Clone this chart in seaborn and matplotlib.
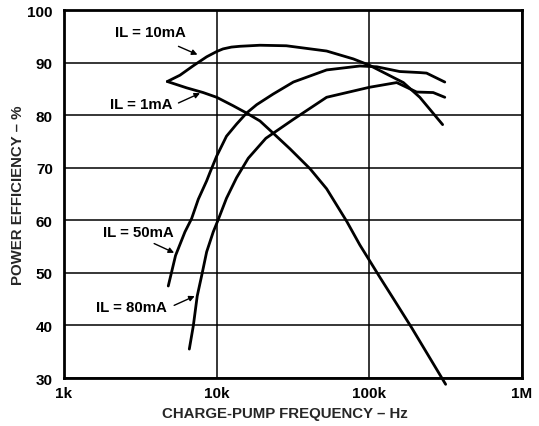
"""Power efficiency vs charge-pump frequency, one curve per load current."""

import matplotlib
import pandas as pd
import seaborn as sns

matplotlib.use("Agg")
import matplotlib.pyplot as plt

# frequency in Hz, efficiency in %
IL1_FREQ = [4750, 6350, 8160, 10000, 12800, 15700, 19200, 23400, 30200, 40900,
            52500, 71100, 86700, 100000, 117000, 143000, 189000, 316000]
IL1_EFF = [86.4, 85.2, 84.3, 83.4, 81.8, 80.4, 78.9, 76.6, 73.6, 69.8,
           66.0, 59.8, 55.3, 52.4, 49.2, 45.2, 39.6, 28.8]

IL10_FREQ = [4750, 5750, 7030, 8600, 10000, 11000, 12500, 14200, 19200, 28600, 52500, 78500,
             100000, 167000, 214000, 302000]
IL10_EFF = [86.4, 87.6, 89.4, 91.1, 92.1, 92.6, 92.95, 93.1, 93.3, 93.2, 92.2, 90.7,
            89.5, 86.2, 83.4, 78.2]

IL50_FREQ = [4820, 5380, 6200, 6850, 7580, 8600, 9040, 10000, 11600, 13500, 15700,
             18300, 23400, 31800, 52500, 86700, 112000, 158000, 214000, 237000, 312000]
IL50_EFF = [47.5, 53.3, 57.8, 60.3, 64.0, 67.5, 69.1, 72.2, 76.0, 78.3, 80.4,
            82.0, 84.0, 86.3, 88.6, 89.35, 89.2, 88.3, 88.1, 88.0, 86.3]

IL80_FREQ = [6620, 7030, 7460, 7980, 8600, 9500, 10200, 11600, 13500, 16100,
             21000, 31800, 52500, 100000, 151000, 204000, 262000, 312000]
IL80_EFF = [35.5, 39.9, 45.6, 49.5, 54.0, 57.8, 60.0, 64.2, 68.1, 71.8,
            75.6, 79.2, 83.4, 85.3, 86.2, 84.4, 84.3, 83.4]

CURVE_NAMES = ["IL = 1mA", "IL = 10mA", "IL = 50mA", "IL = 80mA"]

# label text position, arrow tail, arrow head (data coords)
LABELS = {
    "IL = 10mA": ((3660, 95.8), (5410, 93.3), (7780, 91.3)),
    "IL = 1mA": ((3230, 82.1), (5410, 82.1), (8090, 84.4)),
    "IL = 50mA": ((3050, 57.8), (3750, 55.8), (5470, 53.6)),
    "IL = 80mA": ((2770, 43.5), (5070, 43.6), (7460, 45.8)),
}


def build_frame() -> pd.DataFrame:
    parts = []
    for name, freq, eff in zip(
        CURVE_NAMES,
        [IL1_FREQ, IL10_FREQ, IL50_FREQ, IL80_FREQ],
        [IL1_EFF, IL10_EFF, IL50_EFF, IL80_EFF],
    ):
        parts.append(pd.DataFrame({"freq": freq, "eff": eff, "curve": name}))
    return pd.concat(parts, ignore_index=True)


def main() -> None:
    sns.set_theme(style="white")
    plt.rcParams["font.family"] = ["Liberation Sans", "DejaVu Sans"]
    plt.rcParams["font.weight"] = "bold"

    data = build_frame()

    fig = plt.figure(figsize=(5.39, 4.27), dpi=100)
    ax = fig.add_axes([0.1187, 0.1124, 0.8498, 0.8618])

    sns.lineplot(
        data=data, x="freq", y="eff", hue="curve", units="curve",
        estimator=None, sort=False, palette=["black"] * 4,
        linewidth=2.0, legend=False, ax=ax,
    )
    for line in ax.get_lines():
        line.set_clip_on(False)
        line.set_solid_joinstyle("round")

    ax.set_xscale("log")
    ax.set_xlim(1000, 1_000_000)
    ax.set_ylim(30, 100)
    ax.set_xticks([1000, 10000, 100000, 1_000_000])
    ax.set_xticklabels(["1k", "10k", "100k", "1M"])
    ax.set_yticks(range(30, 101, 10))
    ax.minorticks_off()
    ax.tick_params(length=0, labelsize=11, colors="black")
    ax.tick_params(axis="x", pad=6)
    ax.tick_params(axis="y", pad=8)
    for label in ax.get_xticklabels() + ax.get_yticklabels():
        label.set_fontweight("bold")

    ax.grid(True, color="black", linewidth=1.1)
    for spine in ax.spines.values():
        spine.set_color("black")
        spine.set_linewidth(2.0)

    ax.set_xlabel("CHARGE-PUMP FREQUENCY – Hz", fontsize=10.8, fontweight="bold", labelpad=6)
    ax.xaxis.set_label_coords(0.4825, -0.075)
    ax.set_ylabel("POWER EFFICIENCY – %", fontsize=10.8, fontweight="bold")
    ax.yaxis.set_label_coords(-0.085, 0.5)

    for text, (pos, tail, head) in LABELS.items():
        ax.text(pos[0], pos[1], text, ha="center", va="center",
                fontsize=10.8, fontweight="bold", color="black")
        ax.annotate(
            "", xy=head, xytext=tail,
            arrowprops=dict(arrowstyle="-|>", color="black", lw=1.0, mutation_scale=8),
        )

    fig.savefig("out.png", dpi=100)
    plt.close(fig)


if __name__ == "__main__":
    main()
